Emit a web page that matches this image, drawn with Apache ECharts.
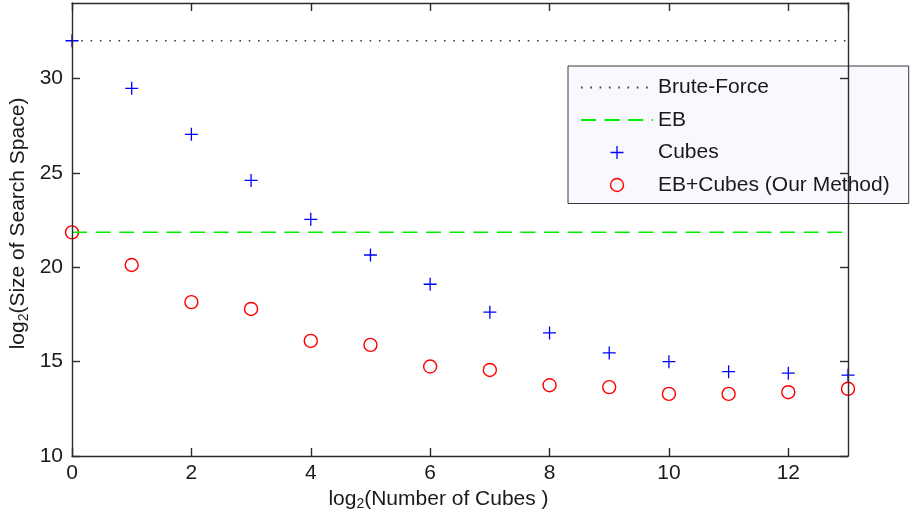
<!DOCTYPE html>
<html><head><meta charset="utf-8">
<script src="https://cdn.jsdelivr.net/npm/echarts@6/dist/echarts.min.js"></script>
<style>html,body{margin:0;padding:0;background:#fff}#c{width:914px;height:530px}</style>
</head><body><div id="c"></div>
<script>
// ---- data ----
const xs = [0,1,2,3,4,5,6,7,8,9,10,11,12,13];
const cubes = [32,29.48,27.04,24.6,22.54,20.65,19.1,17.62,16.52,15.46,15.0,14.47,14.39,14.28];
const ebCubes = [21.85,20.12,18.15,17.79,16.1,15.89,14.74,14.56,13.75,13.65,13.29,13.29,13.38,13.56];
const bruteForce = 32;
const eb = 21.85;
const xRange = [0, 13];
const yRange = [10, 34];
const xTickStep = 2;
const yTickStep = 5;
const names = ['Brute-Force', 'EB', 'Cubes', 'EB+Cubes (Our Method)'];
const xName = ['log', '2', '(Number of Cubes )'];
const yName = ['log', '2', '(Size of Search Space)'];

// ---- style ----
const FONT = '"Liberation Sans", Arial, sans-serif';
const TXT = '#1a1a1a';
const AX = '#2b2b2b';
const NOFILL = 'rgba(0,0,0,0)';
const plusPath = 'path://M0,5.85L13,5.85L13,7.15L0,7.15Z M5.85,0L7.15,0L7.15,13L5.85,13Z';

function richName(padB) {
  return {
    a: {fontSize: 21, lineHeight: 21, padding: [0,0,padB,0], fontFamily: FONT, color: TXT},
    s: {fontSize: 14, lineHeight: 14, fontFamily: FONT, color: TXT}
  };
}
const axisLine = {show: true, onZero: false, lineStyle: {color: AX, width: 1.4}};
const axisTick = {show: true, inside: true, length: 8, lineStyle: {color: AX, width: 1.4}};
const labelBase = {fontSize: 21, color: TXT, fontFamily: FONT, showMaxLabel: false};

const chart = echarts.init(document.getElementById('c'), null, {renderer: 'canvas'});
chart.setOption({
  animation: false,
  backgroundColor: '#ffffff',
  grid: {left: 72, right: 66, top: 3, bottom: 74, containLabel: false, outerBoundsMode: 'none'},
  xAxis: [
    {type: 'value', min: xRange[0], max: xRange[1], interval: xTickStep, position: 'bottom', z: 5,
     axisLine: axisLine, axisTick: axisTick, splitLine: {show: false},
     axisLabel: Object.assign({margin: 7}, labelBase),
     name: '{a|' + xName[0] + '}{s|' + xName[1] + '}{a|' + xName[2] + '}',
     nameLocation: 'middle', nameGap: 38, nameMoveOverlap: false,
     nameTextStyle: {padding: [0,43,0,0], rich: richName(11)}},
    {type: 'value', min: xRange[0], max: xRange[1], interval: xTickStep, position: 'top', z: 5,
     axisLine: axisLine, axisTick: axisTick, splitLine: {show: false}, axisLabel: {show: false}}
  ],
  yAxis: [
    {type: 'value', min: yRange[0], max: yRange[1], interval: yTickStep, position: 'left', z: 5,
     axisLine: axisLine, axisTick: axisTick, splitLine: {show: false},
     axisLabel: Object.assign({margin: 9}, labelBase),
     name: '{a|' + yName[0] + '}{s|' + yName[1] + '}{a|' + yName[2] + '}',
     nameLocation: 'middle', nameGap: 37, nameMoveOverlap: false,
     nameTextStyle: {padding: [0,0,0,12], rich: richName(12)}},
    {type: 'value', min: yRange[0], max: yRange[1], interval: yTickStep, position: 'right', z: 5,
     axisLine: axisLine, axisTick: axisTick, splitLine: {show: false}, axisLabel: {show: false}}
  ],
  legend: {
    orient: 'vertical', left: 568, top: 66,
    padding: [11, 19, 8, 12],
    itemWidth: 72, itemHeight: 13, itemGap: 11.5,
    backgroundColor: '#f8f8ff', borderColor: '#3a3a3a', borderWidth: 1, borderRadius: 0,
    textStyle: {fontSize: 21, lineHeight: 20, color: TXT, fontFamily: FONT},
    selectedMode: false,
    data: [
      {name: names[0], itemStyle: {color: NOFILL, borderWidth: 0}},
      {name: names[1], itemStyle: {color: NOFILL, borderWidth: 0}},
      {name: names[2], icon: plusPath, itemStyle: {color: '#0000ff', borderWidth: 0}},
      {name: names[3], icon: 'circle', itemStyle: {color: NOFILL, borderColor: '#ff0000', borderWidth: 1.4}}
    ]
  },
  series: [
    {name: names[0], type: 'line', symbol: 'none', silent: true,
     data: [[xRange[0], bruteForce], [xRange[1], bruteForce]],
     itemStyle: {color: NOFILL},
     lineStyle: {color: '#3a3a3a', width: 1.6, type: [1.6, 7.7]}},
    {name: names[1], type: 'line', symbol: 'none', silent: true,
     data: [[xRange[0], eb], [xRange[1], eb]],
     itemStyle: {color: NOFILL},
     lineStyle: {color: '#00ee00', width: 1.5, type: [15, 8.6]}},
    {name: names[2], type: 'scatter', symbol: plusPath, symbolSize: 13, clip: false, silent: true,
     data: xs.map((x, i) => [x, cubes[i]]),
     itemStyle: {color: '#0000ff', opacity: 1}},
    {name: names[3], type: 'scatter', symbol: 'circle', symbolSize: 13, clip: false, silent: true,
     data: xs.map((x, i) => [x, ebCubes[i]]),
     itemStyle: {color: NOFILL, borderColor: '#ff0000', borderWidth: 1.4, opacity: 1}}
  ]
});
</script>
</body></html>
